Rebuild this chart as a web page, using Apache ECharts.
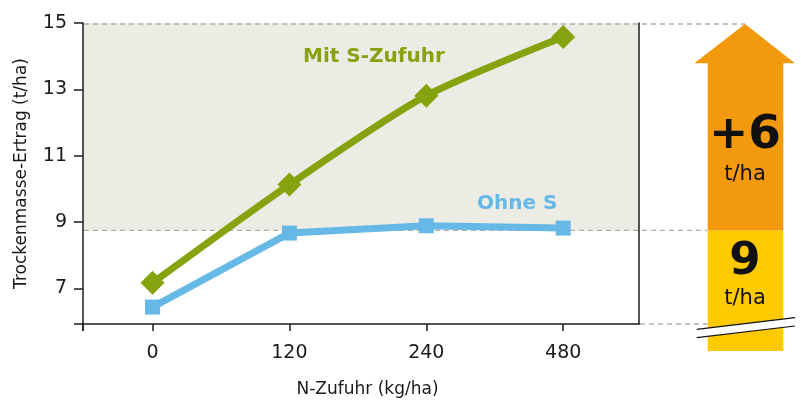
<!DOCTYPE html>
<html><head><meta charset="utf-8">
<script src="https://cdn.jsdelivr.net/npm/echarts@6/dist/echarts.min.js"></script>
<style>html,body{margin:0;padding:0;background:#fff}#c{width:801px;height:405px}</style>
</head><body><div id="c"></div>
<script>
const categories = ['0', '120', '240', '480'];
const mitS = [7.17, 10.13, 12.81, 14.58];
const ohneS = [6.44, 8.67, 8.89, 8.82];
const yTicks = [7, 9, 11, 13, 15];
const baseYield = 8.75;   // level without S (shaded band bottom)
const topYield = 15;      // level with S (shaded band top)
const baseLabel = '9';
const gainLabel = '+6';
const unitLabel = 't/ha';
const seriesNames = ['Mit S-Zufuhr', 'Ohne S'];
const xName = 'N-Zufuhr (kg/ha)';
const yName = 'Trockenmasse-Ertrag (t/ha)';

const yMin = 5.93, yMax = 15;
const xMin = -0.508, xMax = 3.554;
const AX = '#1c1c1c';
const GREEN = '#86a30f', BLUE = '#66b8e6';
const ORANGE = '#f3990d', YELLOW = '#ffcb00';
const DASH = '#b3aea8';

const chart = echarts.init(document.getElementById('c'), null, {renderer: 'canvas'});
const xIdx = categories.map((c, i) => i);

chart.setOption({
  animation: false,
  grid: {left: 83, right: 162, top: 23, bottom: 81},
  xAxis: {
    type: 'value', min: xMin, max: xMax, z: 6,
    name: xName, nameLocation: 'middle', nameGap: 57,
    nameTextStyle: {fontFamily: 'DejaVu Sans', fontSize: 17, color: '#1a1a1a', padding: [0, 0, 0, 13]},
    axisLine: {show: true, onZero: false, lineStyle: {color: AX, width: 1.5}},
    axisTick: {show: true, length: 7, lineStyle: {color: AX, width: 1.5}, customValues: [xMin].concat(xIdx)},
    axisLabel: {customValues: xIdx, formatter: v => categories[Math.round(v)], margin: 20,
      fontFamily: 'DejaVu Sans', fontSize: 19, color: '#1a1a1a'},
    splitLine: {show: false}
  },
  yAxis: [{
    type: 'value', min: yMin, max: yMax, z: 6,
    name: yName, nameLocation: 'middle', nameGap: 53,
    nameTextStyle: {fontFamily: 'DejaVu Sans', fontSize: 17, color: '#1a1a1a'},
    axisLine: {show: true, onZero: false, lineStyle: {color: AX, width: 1.5}},
    axisTick: {show: true, length: 9, lineStyle: {color: AX, width: 1.5}, customValues: [yMin].concat(yTicks)},
    axisLabel: {customValues: yTicks, margin: 16, fontFamily: 'DejaVu Sans', fontSize: 19, color: '#1a1a1a'},
    splitLine: {show: false}
  }, {
    type: 'value', min: yMin, max: yMax, position: 'right', z: 6,
    axisLine: {show: true, onZero: false, lineStyle: {color: AX, width: 1.5}},
    axisTick: {show: false}, axisLabel: {show: false}, splitLine: {show: false}
  }],
  series: [{
    name: 'band', type: 'line', data: [], z: 1, silent: true,
    markArea: {silent: true, itemStyle: {color: '#ecebe4'},
      data: [[{yAxis: baseYield}, {yAxis: topYield}]]}
  }, {
    name: seriesNames[0], type: 'line', smooth: 0.25, z: 3,
    data: mitS.map((v, i) => [xIdx[i], v]),
    symbol: 'diamond', symbolSize: 24,
    lineStyle: {color: GREEN, width: 7}, itemStyle: {color: GREEN}
  }, {
    name: seriesNames[1], type: 'line', z: 3,
    data: ohneS.map((v, i) => [xIdx[i], v]),
    symbol: 'rect', symbolSize: 15,
    lineStyle: {color: BLUE, width: 7}, itemStyle: {color: BLUE}
  }]
});

const py = v => chart.convertToPixel({yAxisIndex: 0}, v);
const px = v => chart.convertToPixel({xAxisIndex: 0}, v);
const yTop = py(topYield), yBase = py(baseYield), yBot = py(yMin);
const gL = px(xMin), gR = px(xMax);
const aL = 707.7, aR = 783.3, hL = 694.3, hR = 795, aC = 745, headY = 63.3, aBot = 351;
const dashStyle = {stroke: DASH, lineWidth: 1.3, lineDash: [5, 4]};

chart.setOption({
  graphic: [
    {type: 'line', z: 2, shape: {x1: gL + 1, y1: yTop + 1, x2: aC, y2: yTop + 1}, style: dashStyle},
    {type: 'line', z: 2, shape: {x1: gL + 1, y1: yBase, x2: aL, y2: yBase}, style: dashStyle},
    {type: 'line', z: 2, shape: {x1: gR + 1, y1: yBot, x2: aL, y2: yBot}, style: dashStyle},
    {type: 'line', z: 10, shape: {x1: gL, y1: yBot, x2: gL, y2: yBot + 7}, style: {stroke: AX, lineWidth: 1.5}},
    {type: 'rect', z: 5, shape: {x: aL, y: yBase, width: aR - aL, height: aBot - yBase}, style: {fill: YELLOW}},
    {type: 'rect', z: 5, shape: {x: aL, y: headY - 0.5, width: aR - aL, height: yBase - headY + 0.5}, style: {fill: ORANGE}},
    {type: 'polygon', z: 5, shape: {points: [[hL, headY], [aC, yTop + 1], [hR, headY]]}, style: {fill: ORANGE}},
    {type: 'polygon', z: 6, shape: {points: [[696.7, 329.3], [795, 317.7], [795, 326], [696.7, 337.7]]}, style: {fill: '#fff'}},
    {type: 'line', z: 7, shape: {x1: 696.7, y1: 329.3, x2: 795, y2: 317.7}, style: {stroke: '#111', lineWidth: 1.2}},
    {type: 'line', z: 7, shape: {x1: 696.7, y1: 337.7, x2: 795, y2: 326}, style: {stroke: '#111', lineWidth: 1.2}},
    {type: 'text', z: 8, x: aC, y: 136, style: {text: gainLabel, fontFamily: 'DejaVu Sans', fontWeight: 'bold', fontSize: 47, fill: '#111', align: 'center', verticalAlign: 'middle'}},
    {type: 'text', z: 8, x: aC, y: 175, style: {text: unitLabel, fontFamily: 'DejaVu Sans', fontSize: 21, fill: '#111', align: 'center', verticalAlign: 'middle'}},
    {type: 'text', z: 8, x: aC, y: 262, style: {text: baseLabel, fontFamily: 'DejaVu Sans', fontWeight: 'bold', fontSize: 45, fill: '#111', align: 'center', verticalAlign: 'middle'}},
    {type: 'text', z: 8, x: aC, y: 299, style: {text: unitLabel, fontFamily: 'DejaVu Sans', fontSize: 21, fill: '#111', align: 'center', verticalAlign: 'middle'}},
    {type: 'text', z: 8, x: 303, y: 57, style: {text: seriesNames[0], fontFamily: 'DejaVu Sans', fontWeight: 'bold', fontSize: 20, fill: GREEN, align: 'left', verticalAlign: 'middle'}},
    {type: 'text', z: 8, x: 477, y: 204, style: {text: seriesNames[1], fontFamily: 'DejaVu Sans', fontWeight: 'bold', fontSize: 20, fill: BLUE, align: 'left', verticalAlign: 'middle'}}
  ]
});
</script></body></html>
